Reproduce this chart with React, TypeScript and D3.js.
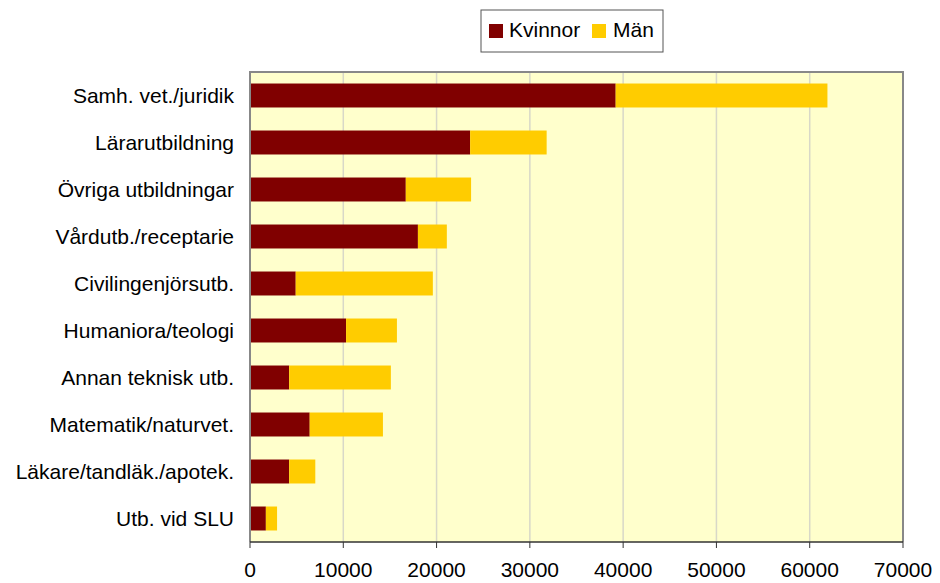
import React from 'react';
import * as d3 from 'd3';

const categories = [
  'Samh. vet./juridik',
  'Lärarutbildning',
  'Övriga utbildningar',
  'Vårdutb./receptarie',
  'Civilingenjörsutb.',
  'Humaniora/teologi',
  'Annan teknisk utb.',
  'Matematik/naturvet.',
  'Läkare/tandläk./apotek.',
  'Utb. vid SLU',
];
const kvinnor = [39200, 23600, 16700, 18000, 4900, 10300, 4200, 6400, 4200, 1700];
const man = [22700, 8200, 7000, 3100, 14700, 5450, 10900, 7850, 2800, 1200];
const xTicks = [0, 10000, 20000, 30000, 40000, 50000, 60000, 70000];
const seriesNames = ['Kvinnor', 'Män'];
const colors = ['#800000', '#FFCC00'];

const W = 940;
const H = 583;
const margin = { top: 72, right: 37, bottom: 41, left: 250 };
const font = 'Arial, "Liberation Sans", sans-serif';

export default function App() {
  const innerW = W - margin.left - margin.right;
  const innerH = H - margin.top - margin.bottom;

  const x = d3.scaleLinear().domain([0, 70000]).range([0, innerW]);
  const y = d3.scaleBand<string>().domain(categories).range([0, innerH]).paddingInner(0.49).paddingOuter(0.245);

  const rows = categories.map((c, i) => ({ cat: c, k: kvinnor[i], m: man[i] }));
  const stack = d3.stack<any>().keys(['k', 'm'])(rows);

  return (
    <div style={{ position: 'absolute', left: 0, top: 0 }}>
      <svg width={W} height={H} style={{ display: 'block', fontFamily: font }}>
        <rect width={W} height={H} fill="#ffffff" />
        {/* legend */}
        <g transform="translate(481,10)">
          <rect width={182} height={42} fill="#fff" stroke="#555" strokeWidth={1} />
          <rect x={8} y={14} width={14} height={14} fill={colors[0]} />
          <text x={28} y={27} fontSize={21} fill="#000">{seriesNames[0]}</text>
          <rect x={111} y={14} width={14} height={14} fill={colors[1]} />
          <text x={132} y={27} fontSize={21} fill="#000">{seriesNames[1]}</text>
        </g>
        <g transform={`translate(${margin.left},${margin.top})`}>
          <rect width={innerW} height={innerH} fill="#FFFFCC" />
          {xTicks.slice(1, -1).map(t => (
            <line key={t} x1={x(t)} x2={x(t)} y1={0} y2={innerH} stroke="#d8d8c8" strokeWidth={1.5} />
          ))}
          {stack.map((s, si) => (
            <g key={si} fill={colors[si]}>
              {s.map((d, i) => (
                <rect
                  key={i}
                  x={x(d[0])}
                  y={y(categories[i])}
                  width={x(d[1]) - x(d[0])}
                  height={y.bandwidth()}
                />
              ))}
            </g>
          ))}
          <path d={`M0,${innerH} V0 H${innerW} V${innerH}`} fill="none" stroke="#888" strokeWidth={2} />
          <line x1={0} x2={innerW} y1={innerH} y2={innerH} stroke="#333" strokeWidth={1.5} />
          {xTicks.map(t => (
            <g key={t} transform={`translate(${x(t)},${innerH})`}>
              <line y1={0} y2={6} stroke="#333" strokeWidth={1} />
              <text y={35} textAnchor="middle" fontSize={21} fill="#000">{t}</text>
            </g>
          ))}
          {categories.map(c => (
            <text
              key={c}
              x={-16}
              y={(y(c) as number) + y.bandwidth() / 2}
              dy="0.35em"
              textAnchor="end"
              fontSize={21}
              fill="#000"
            >
              {c}
            </text>
          ))}
        </g>
      </svg>
    </div>
  );
}
